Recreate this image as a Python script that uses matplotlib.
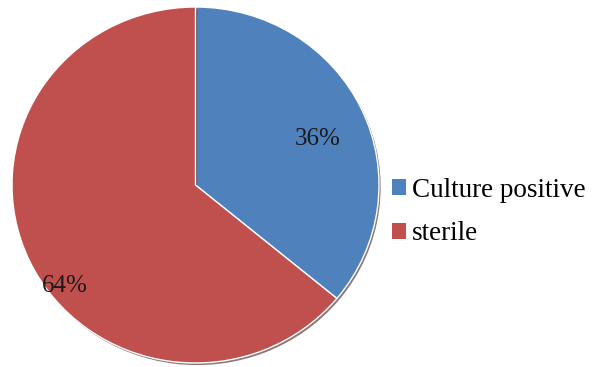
import matplotlib
matplotlib.use('Agg')
import matplotlib.pyplot as plt
import matplotlib.patheffects as pe

categories = ['Culture positive', 'sterile']
shares = [36, 64]
colors = ['#4F81BD', '#C0504D']

plt.rcParams['font.family'] = ['Liberation Serif', 'DejaVu Serif']

fig = plt.figure(figsize=(5.94, 3.67), dpi=100)
ax = fig.add_axes([12/594, 4/367, 367/594, 356/367])

wedges, texts, pcts = ax.pie(
    shares, colors=colors, startangle=90, counterclock=False,
    autopct='%d%%', pctdistance=0.7,
    wedgeprops=dict(edgecolor='white', linewidth=1.0),
    textprops=dict(fontsize=18, color='#1a1a1a'))

for w in wedges:
    w.set_path_effects([pe.SimplePatchShadow(offset=(1.2, -1.5),
                                             shadow_rgbFace='#3a2020', alpha=0.6),
                        pe.Normal()])

# hand placed labels, as in the original
pcts[0].set_position((0.665, 0.26))
pcts[1].set_position((-0.71, -0.57))

ax.set_aspect('auto')
ax.set_xlim(-1.0, 1.0)
ax.set_ylim(-1.0, 1.0)

leg = fig.legend(wedges, categories, loc='center left',
                 bbox_to_anchor=(392/594, 1 - 212/367),
                 frameon=False, fontsize=19.5,
                 handlelength=0.52, handleheight=0.52,
                 handletextpad=0.22, labelspacing=0.68,
                 borderpad=0, borderaxespad=0)
for h in leg.legend_handles:
    h.set_path_effects([])
    h.set_edgecolor('none')

fig.savefig('out.png', dpi=100)
